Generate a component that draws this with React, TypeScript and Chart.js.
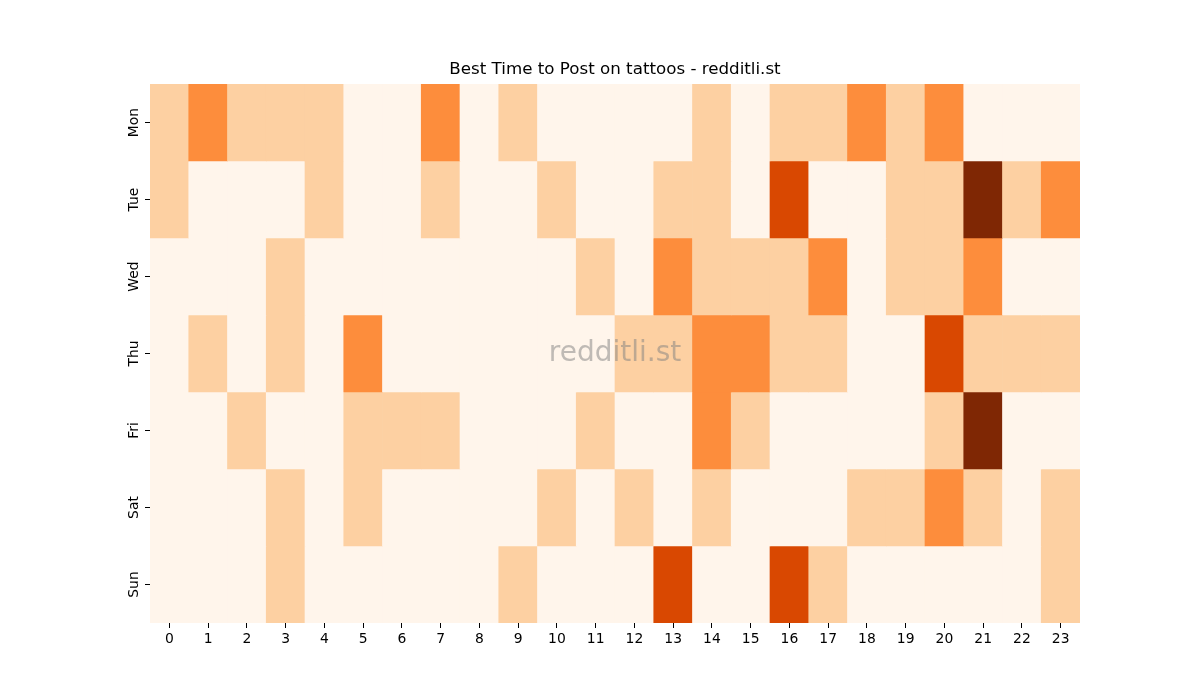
import React, { useEffect, useRef } from "react";
import { Chart, registerables } from "chart.js";

Chart.register(...registerables);

const TITLE = "Best Time to Post on tattoos - redditli.st";
const WATERMARK = "redditli.st";
const hours = ["0","1","2","3","4","5","6","7","8","9","10","11","12","13","14","15","16","17","18","19","20","21","22","23"];
const days = ["Mon", "Tue", "Wed", "Thu", "Fri", "Sat", "Sun"];

// activity level per hour (0..4)
const mon = [1,2,1,1,1,0,0,2,0,1,0,0,0,0,1,0,1,1,2,1,2,0,0,0];
const tue = [1,0,0,0,1,0,0,1,0,0,1,0,0,1,1,0,3,0,0,1,1,4,1,2];
const wed = [0,0,0,1,0,0,0,0,0,0,0,1,0,2,1,1,1,2,0,1,1,2,0,0];
const thu = [0,1,0,1,0,2,0,0,0,0,0,0,1,1,2,2,1,1,0,0,3,1,1,1];
const fri = [0,0,1,0,0,1,1,1,0,0,0,1,0,0,2,1,0,0,0,0,1,4,0,0];
const sat = [0,0,0,1,0,1,0,0,0,0,1,0,1,0,1,0,0,0,1,1,2,1,0,1];
const sun = [0,0,0,1,0,0,0,0,0,1,0,0,0,3,0,0,3,1,0,0,0,0,0,1];
const rows = [mon, tue, wed, thu, fri, sat, sun];

// Oranges colormap sampled at 0, .25, .5, .75, 1
const palette = ["#fff5eb", "#fdd0a2", "#fd8d3c", "#d94801", "#7f2704"];
const maxVal = 4;
const colorFor = (v: number) => palette[Math.round((v / maxVal) * (palette.length - 1))];

const FONT = "'DejaVu Sans', sans-serif";

const overlayPlugin = {
  id: "overlay",
  afterDatasetsDraw(chart: any) {
    const { ctx, chartArea } = chart;
    const y = chart.scales.y;
    ctx.save();
    // y tick labels, rotated
    ctx.fillStyle = "#000";
    ctx.font = `13.9px ${FONT}`;
    ctx.textAlign = "center";
    ctx.textBaseline = "alphabetic";
    y.ticks.forEach((t: any, i: number) => {
      const py = y.getPixelForValue(t.value);
      ctx.save();
      ctx.translate(chartArea.left - 12, py);
      ctx.rotate(-Math.PI / 2);
      ctx.fillText(days[i], 0, 0);
      ctx.restore();
    });
    // watermark
    ctx.fillStyle = "rgba(128,128,128,0.5)";
    ctx.font = `28px ${FONT}`;
    ctx.textAlign = "center";
    ctx.textBaseline = "middle";
    ctx.fillText(WATERMARK, (chartArea.left + chartArea.right) / 2, (chartArea.top + chartArea.bottom) / 2);
    ctx.restore();
  },
};

export default function App() {
  const ref = useRef<HTMLCanvasElement>(null);
  useEffect(() => {
    if (!ref.current) return;
    const chart = new Chart(ref.current, {
      type: "bar",
      data: {
        labels: hours,
        datasets: rows.map((r, d) => ({
          label: days[d],
          data: r.map(() => 1),
          backgroundColor: r.map(colorFor),
          borderWidth: 0,
          barPercentage: 1,
          categoryPercentage: 1,
        })),
      },
      options: {
        animation: false,
        responsive: false,
        layout: { padding: { left: 150, right: 120, top: 60, bottom: 0 } },
        plugins: {
          legend: { display: false },
          tooltip: { enabled: false },
          title: {
            display: true,
            text: TITLE,
            color: "#000",
            font: { family: FONT, size: 16.7, weight: "normal", lineHeight: 1.2 },
            padding: { top: 0, bottom: 4 },
          },
        },
        scales: {
          x: {
            type: "category",
            stacked: true,
            grid: { offset: false, drawOnChartArea: false, drawTicks: true, tickLength: 5, color: "#000", lineWidth: 1 },
            border: { display: false },
            ticks: { color: "#000", font: { family: FONT, size: 13.9 }, padding: 3, autoSkip: false, maxRotation: 0, minRotation: 0 },
            afterFit: (s: any) => { s.height = 77; },
          },
          y: {
            type: "linear",
            stacked: true,
            min: 0,
            max: 7,
            reverse: true,
            afterBuildTicks: (s: any) => { s.ticks = days.map((_, i) => ({ value: i + 0.5 })); },
            grid: { drawOnChartArea: false, drawTicks: true, tickLength: 5, color: "#000", lineWidth: 1 },
            border: { display: false },
            ticks: { display: false },
            afterFit: (s: any) => { s.width = 0; },
          },
        },
      } as any,
      plugins: [overlayPlugin],
    });
    return () => chart.destroy();
  }, []);
  return (
    <div style={{ position: "absolute", left: 0, top: 0, width: 1200, height: 700, background: "#fff" }}>
      <canvas ref={ref} width={1200} height={700} />
    </div>
  );
}
